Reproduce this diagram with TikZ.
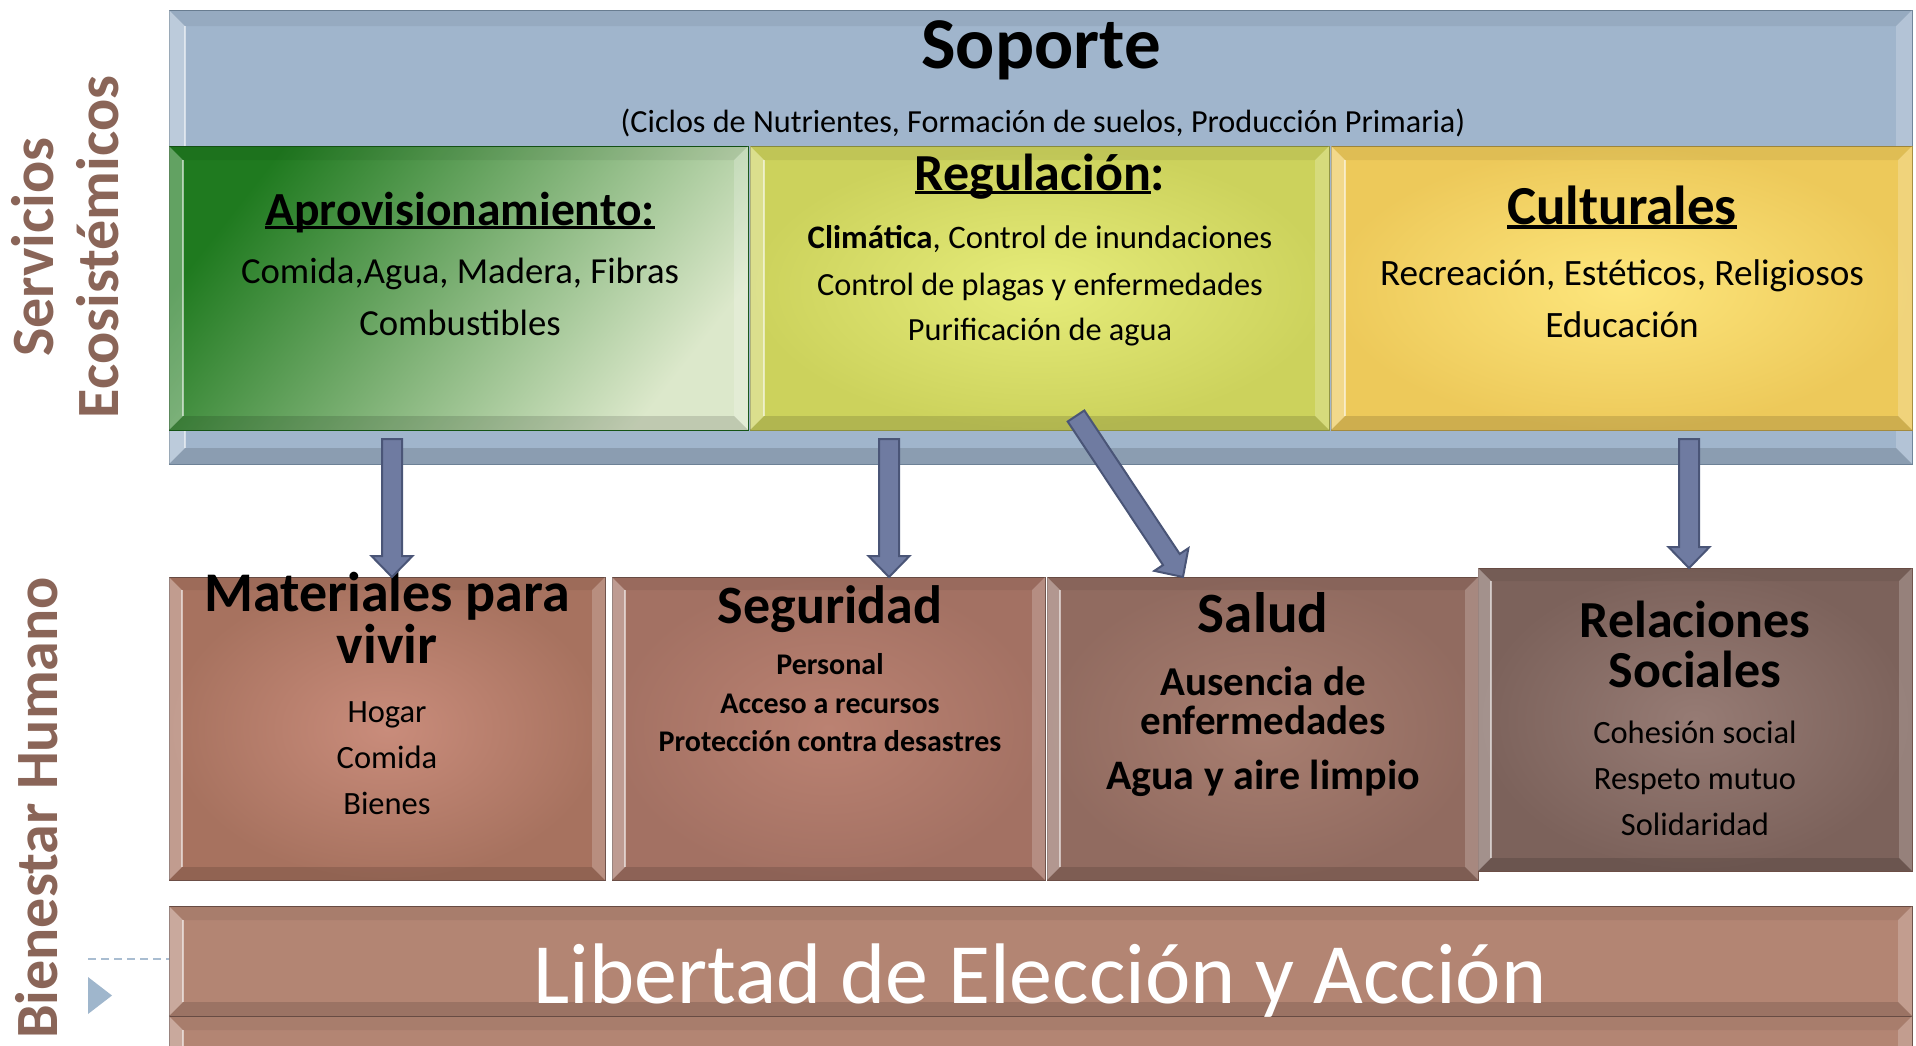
\documentclass[tikz,border=0pt]{standalone}
\usepackage{fontspec}
\setmainfont{Carlito}
\usetikzlibrary{calc}

\definecolor{bluebar}{HTML}{A0B5CC}
\definecolor{blueedge}{HTML}{6F8499}
\definecolor{arrowfill}{HTML}{6F7BA1}
\definecolor{arrowedge}{HTML}{4A5577}
\definecolor{gDark}{HTML}{1F7A1F}
\definecolor{gMid}{HTML}{7FB05C}
\definecolor{gLight}{HTML}{DCE8CB}
\definecolor{ygIn}{HTML}{E6EC7A}
\definecolor{ygOut}{HTML}{CCD25C}
\definecolor{yIn}{HTML}{FDE67C}
\definecolor{yOut}{HTML}{EDC95A}
\definecolor{matIn}{HTML}{C98C7B}
\definecolor{matOut}{HTML}{A7725F}
\definecolor{segIn}{HTML}{BB8272}
\definecolor{segOut}{HTML}{A37163}
\definecolor{salIn}{HTML}{A87E70}
\definecolor{salOut}{HTML}{916B60}
\definecolor{relIn}{HTML}{967B74}
\definecolor{relOut}{HTML}{7C625B}
\definecolor{libFill}{HTML}{B38573}
\definecolor{brownEdge}{HTML}{6E5048}
\definecolor{labBrown}{HTML}{8A6558}
\definecolor{bulletBlue}{HTML}{9FB6CC}
\definecolor{dashBlue}{HTML}{A9BDD1}

\newcommand\fs[1]{\fontsize{#1pt}{#1pt}\selectfont}
\newcommand\myul[1]{\setbox0=\hbox{#1}\rlap{\rule[-0.085em]{\wd0}{0.06em}}\box0}

\newcommand\bevel[2]{%
  \fill[white,opacity=.30] (#1.north west) -- ($(#1.north west)+(#2,#2)$) -- ($(#1.south west)+(#2,-#2)$) -- (#1.south west) -- cycle;
  \fill[white,opacity=.20] (#1.north east) -- ($(#1.north east)+(-#2,#2)$) -- ($(#1.south east)+(-#2,-#2)$) -- (#1.south east) -- cycle;
  \fill[black,opacity=.06] (#1.north west) -- (#1.north east) -- ($(#1.north east)+(-#2,#2)$) -- ($(#1.north west)+(#2,#2)$) -- cycle;
  \fill[black,opacity=.13] (#1.south west) -- (#1.south east) -- ($(#1.south east)+(-#2,-#2)$) -- ($(#1.south west)+(#2,-#2)$) -- cycle;
  \draw[white,opacity=.55,line width=1.5] ($(#1.north west)+(#2,#2)$) -- ($(#1.south west)+(#2,-#2)$);
}

\newcommand\blockarrow[2]{%
  \path[arrowsty] let \p1=(#1), \p2=(#2), \n1={atan2(\y2-\y1,\x2-\x1)}, \n2={veclen(\x2-\x1,\y2-\y1)} in
  [shift={(\p1)}, rotate=\n1] (0,10) -- ({\n2-21},10) -- ({\n2-21},20.5) -- ({\n2},0) -- ({\n2-21},-20.5) -- ({\n2-21},-10) -- (0,-10) -- cycle;}

\tikzset{
  boxsty/.style={draw=#1, line width=1, inner sep=0, outer sep=0, anchor=north west},
  lbl/.style={inner sep=0, outer sep=0, anchor=base, text=black},
  sidelbl/.style={inner sep=0, outer sep=0, anchor=base, rotate=90, text=labBrown, font=\fs{60}\bfseries},
  arrowsty/.style={fill=arrowfill, draw=arrowedge, line width=2, line join=miter}
}

\begin{document}
\begin{tikzpicture}[x=1pt,y=-1pt]
\useasboundingbox (0,0) rectangle (1916,1045);
\clip (0,0) rectangle (1916,1045);

% ---- Servicios ecosistemicos block
\node[boxsty=blueedge, fill=bluebar, minimum width=1743, minimum height=454] (sbox) at (169,10) {};
\bevel{sbox}{16}
\node[boxsty=gDark!70!black, left color=gDark, middle color=gMid, right color=gLight, shading angle=52, minimum width=579, minimum height=284] (prov) at (169,146) {};
\bevel{prov}{14}
\node[boxsty=ygOut!70!black, inner color=ygIn, outer color=ygOut, minimum width=579, minimum height=284] (reg) at (750,146) {};
\bevel{reg}{14}
\node[boxsty=yOut!70!black, inner color=yIn, outer color=yOut, minimum width=581, minimum height=284] (cul) at (1331,146) {};
\bevel{cul}{14}

\node[lbl, font=\fs{73}\bfseries] (sop) at (1041,68) {Soporte};
\node[lbl, font=\fs{32.2}] (sopsub) at (1043,132) {(Ciclos de Nutrientes, Formación de suelos, Producción Primaria)};

\node[lbl, font=\fs{47.5}\bfseries] (provT) at (460,225) {\myul{Aprovisionamiento:}};
\node[lbl, font=\fs{36.7}] (prov1) at (460,283) {Comida,Agua, Madera, Fibras};
\node[lbl, font=\fs{36.7}] (prov2) at (460,335) {Combustibles};

\node[lbl, font=\fs{52}\bfseries] (regT) at (1040,190) {\myul{Regulación}:};
\node[lbl, font=\fs{32.8}] (reg1) at (1040,248) {\textbf{Climática}, Control de inundaciones};
\node[lbl, font=\fs{32.3}] (reg2) at (1040,295) {Control de plagas y enfermedades};
\node[lbl, font=\fs{32.3}] (reg3) at (1040,340) {Purificación de agua};

\node[lbl, font=\fs{55}\bfseries] (culT) at (1622,224) {\myul{Culturales}};
\node[lbl, font=\fs{37.2}] (cul1) at (1622,285) {Recreación, Estéticos, Religiosos};
\node[lbl, font=\fs{37.2}] (cul2) at (1622,337) {Educación};

% ---- Bienestar humano block
\node[boxsty=brownEdge, inner color=matIn, outer color=matOut, minimum width=436, minimum height=303] (mat) at (169,577) {};
\bevel{mat}{13}
\node[boxsty=brownEdge, inner color=segIn, outer color=segOut, minimum width=433, minimum height=303] (seg) at (612,577) {};
\bevel{seg}{13}
\node[boxsty=brownEdge, inner color=salIn, outer color=salOut, minimum width=431, minimum height=303] (sal) at (1047,577) {};
\bevel{sal}{13}
\node[boxsty=brownEdge, inner color=relIn, outer color=relOut, minimum width=434, minimum height=303] (rel) at (1478,568) {};
\bevel{rel}{13}

\node[lbl, font=\fs{56}\bfseries] (matT1) at (387,611) {Materiales para};
\node[lbl, font=\fs{56}\bfseries] (matT2) at (387,663) {vivir};
\node[lbl, font=\fs{32.5}] (mat1) at (387,722) {Hogar};
\node[lbl, font=\fs{32.5}] (mat2) at (387,768) {Comida};
\node[lbl, font=\fs{32.5}] (mat3) at (387,814) {Bienes};

\node[lbl, font=\fs{54}\bfseries] (segT) at (830,623) {Seguridad};
\node[lbl, font=\fs{30}\bfseries] (seg1) at (830,674) {Personal};
\node[lbl, font=\fs{30}\bfseries] (seg2) at (830,713) {Acceso a recursos};
\node[lbl, font=\fs{30}\bfseries] (seg3) at (830,751) {Protección contra desastres};

\node[lbl, font=\fs{57}\bfseries] (salT) at (1263,632) {Salud};
\node[lbl, font=\fs{41}\bfseries] (sal1) at (1263,695) {Ausencia de};
\node[lbl, font=\fs{41}\bfseries] (sal2) at (1263,734) {enfermedades};
\node[lbl, font=\fs{42}\bfseries] (sal3) at (1263,789) {Agua y aire limpio};

\node[lbl, font=\fs{52}\bfseries] (relT1) at (1695,637) {Relaciones};
\node[lbl, font=\fs{52}\bfseries] (relT2) at (1695,687) {Sociales};
\node[lbl, font=\fs{32.5}] (rel1) at (1695,743) {Cohesión social};
\node[lbl, font=\fs{32.5}] (rel2) at (1695,789) {Respeto mutuo};
\node[lbl, font=\fs{32.5}] (rel3) at (1695,835) {Solidaridad};

% ---- Libertad bar
\node[boxsty=brownEdge, fill=libFill, minimum width=1743, minimum height=110] (libbox) at (169,906) {};
\bevel{libbox}{14}
\node[boxsty=brownEdge, fill=libFill, minimum width=1743, minimum height=60] (lib2) at (169,1016) {};
\bevel{lib2}{14}
\node[lbl, text=white, font=\fs{86}] (lib) at (1040,1003) {Libertad de Elección y Acción};

% ---- side labels
\node[sidelbl] (serv) at (53,247) {Servicios};
\node[sidelbl] (eco) at (118,247) {Ecosistémicos};
\node[sidelbl] (bien) at (57,808) {Bienestar Humano};

% ---- bullet artefacts
\coordinate (dl) at (88,959);
\draw[dashBlue, line width=1.5, dash pattern=on 8pt off 5pt] (dl) -- (dl -| libbox.west);
\fill[bulletBlue] (88,977) -- (112,995.5) -- (88,1014) -- cycle;

% ---- arrows
\coordinate (t1) at (392,439);
\coordinate (t2) at (889,439);
\coordinate (t3) at (1076,416);
\coordinate (t4) at (1689,439);
\blockarrow{t1}{t1 |- mat.north}
\blockarrow{t2}{t2 |- seg.north}
\blockarrow{t3}{$(sal.north west)!0.3155!(sal.north east)$}
\blockarrow{t4}{t4 |- rel.north}
\end{tikzpicture}
\end{document}
